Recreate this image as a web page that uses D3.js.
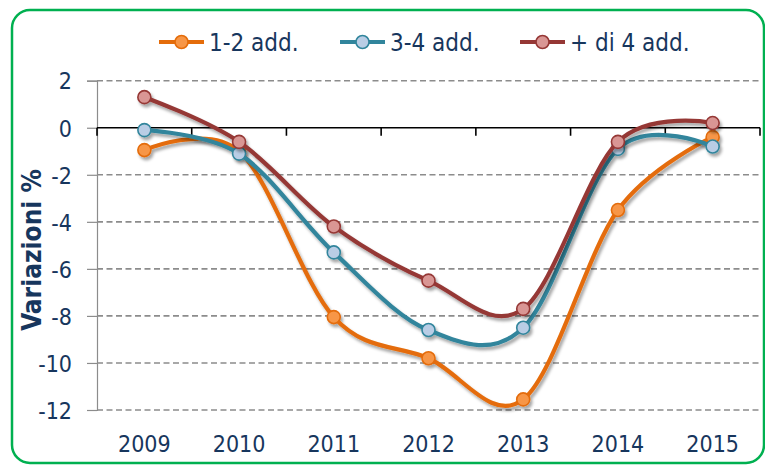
<!DOCTYPE html>
<html>
<head>
<meta charset="utf-8">
<script src="https://cdn.jsdelivr.net/npm/d3@7/dist/d3.min.js"></script>
<style>
  html, body { margin: 0; padding: 0; background: #fff; }
  svg { display: block; font-family: "DejaVu Sans Condensed", "DejaVu Sans", sans-serif; }
</style>
</head>
<body>
<svg id="chart" width="765" height="466"></svg>
<script>
// Variazioni % per classe di addetti, 2009-2015
const years = ['2009', '2010', '2011', '2012', '2013', '2014', '2015'];
const yTicks = [2, 0, -2, -4, -6, -8, -10, -12];

const add12 = [-0.95, -1.0, -8.05, -9.8, -11.55, -3.5, -0.4];
const add34 = [-0.1, -1.1, -5.3, -8.6, -8.5, -0.9, -0.8];
const addPiu4 = [1.3, -0.6, -4.2, -6.5, -7.7, -0.6, 0.2];

const seriesNames = ['1-2 add.', '3-4 add.', '+ di 4 add.'];
const seriesValues = [add12, add34, addPiu4];

const textColor = '#17365d';
const styles = [
  { line: '#e46c0a', fill: '#f79646', stroke: '#e46c0a' },
  { line: '#31859c', fill: '#b9cde5', stroke: '#31859c' },
  { line: '#953735', fill: '#d99694', stroke: '#953735' }
];

const svg = d3.select('#chart');

// drop shadow like the Excel lines
const defs = svg.append('defs');
defs.append('filter')
  .attr('id', 'shadow')
  .attr('x', '-10%').attr('y', '-10%').attr('width', '130%').attr('height', '130%')
  .append('feDropShadow')
  .attr('dx', 2).attr('dy', 3).attr('stdDeviation', 1.6)
  .attr('flood-color', '#000').attr('flood-opacity', 0.35);

// green frame
svg.append('rect')
  .attr('x', 12).attr('y', 10)
  .attr('width', 752).attr('height', 453)
  .attr('rx', 18).attr('ry', 18)
  .attr('fill', '#fff')
  .attr('stroke', '#00b050').attr('stroke-width', 2.5);

const plotLeft = 97, plotRight = 760, plotTop = 80.7, plotBottom = 410;

const x = d3.scaleBand().domain(years).range([plotLeft, plotRight]).padding(0);
const y = d3.scaleLinear().domain([-12, 2]).range([plotBottom, plotTop]);

// dashed gridlines
svg.append('g')
  .selectAll('line')
  .data(yTicks.filter(v => v !== 0))
  .join('line')
  .attr('x1', plotLeft).attr('x2', plotRight)
  .attr('y1', d => y(d)).attr('y2', d => y(d))
  .attr('stroke', '#8c8c8c').attr('stroke-width', 1.6)
  .attr('stroke-dasharray', '6,3.5');

// y axis
const yAxis = svg.append('g')
  .attr('transform', `translate(${plotLeft},0)`)
  .call(d3.axisLeft(y).tickValues(yTicks).tickSize(10).tickPadding(15));
yAxis.select('.domain').attr('stroke', '#8c8c8c').attr('stroke-width', 1.2);
yAxis.selectAll('.tick line').attr('stroke', '#8c8c8c').attr('stroke-width', 1.2);
yAxis.selectAll('.tick text')
  .attr('fill', textColor)
  .attr('font-size', 23)
  .attr('font-family', '"DejaVu Sans Condensed", "DejaVu Sans", sans-serif')
  .attr('dy', '0.36em')
  .text(d => d < 0 ? '-' + Math.abs(d) : d);

// x axis at zero with ticks on band edges
const edges = years.map(d => x(d)).concat([plotRight]);
const xAxis = svg.append('g');
xAxis.append('line')
  .attr('x1', plotLeft).attr('x2', plotRight)
  .attr('y1', y(0)).attr('y2', y(0))
  .attr('stroke', '#000').attr('stroke-width', 1.6);
xAxis.selectAll('.edge')
  .data(edges)
  .join('line')
  .attr('class', 'edge')
  .attr('x1', d => d).attr('x2', d => d)
  .attr('y1', y(0)).attr('y2', y(0) + 8)
  .attr('stroke', '#000').attr('stroke-width', 1.6);

// year labels below the plot
svg.append('g')
  .selectAll('text')
  .data(years)
  .join('text')
  .attr('x', d => x(d) + x.bandwidth() / 2)
  .attr('y', 452)
  .attr('text-anchor', 'middle')
  .attr('fill', textColor)
  .attr('font-size', 23)
  .text(d => d);

// y title
svg.append('text')
  .attr('transform', 'translate(41,250) rotate(-90)')
  .attr('text-anchor', 'middle')
  .attr('fill', textColor)
  .attr('font-weight', 'bold')
  .attr('font-size', 26)
  .text('Variazioni %');

// series
const line = d3.line()
  .x((d, i) => x(years[i]) + x.bandwidth() / 2)
  .y(d => y(d))
  .curve(d3.curveCardinal.tension(0));

seriesValues.forEach((vals, k) => {
  const st = styles[k];
  const g = svg.append('g').attr('filter', 'url(#shadow)');
  g.append('path')
    .datum(vals)
    .attr('fill', 'none')
    .attr('stroke', st.line)
    .attr('stroke-width', 4.2)
    .attr('stroke-linecap', 'round')
    .attr('d', line);
  g.selectAll('circle')
    .data(vals)
    .join('circle')
    .attr('cx', (d, i) => x(years[i]) + x.bandwidth() / 2)
    .attr('cy', d => y(d))
    .attr('r', 6.5)
    .attr('fill', st.fill)
    .attr('stroke', st.stroke)
    .attr('stroke-width', 1.6);
});

// legend
const legendX = [159, 340, 520];
const legend = svg.append('g');
seriesNames.forEach((name, k) => {
  const st = styles[k];
  const lg = legend.append('g').attr('transform', `translate(${legendX[k]},42)`);
  lg.append('line')
    .attr('x1', 0).attr('x2', 45)
    .attr('stroke', st.line).attr('stroke-width', 4.2);
  lg.append('circle')
    .attr('cx', 22.5).attr('r', 6.5)
    .attr('fill', st.fill).attr('stroke', st.stroke).attr('stroke-width', 1.6);
  lg.append('text')
    .attr('x', 50).attr('y', 9)
    .attr('fill', textColor)
    .attr('font-size', 24)
    .text(name);
});
</script>
</body>
</html>
